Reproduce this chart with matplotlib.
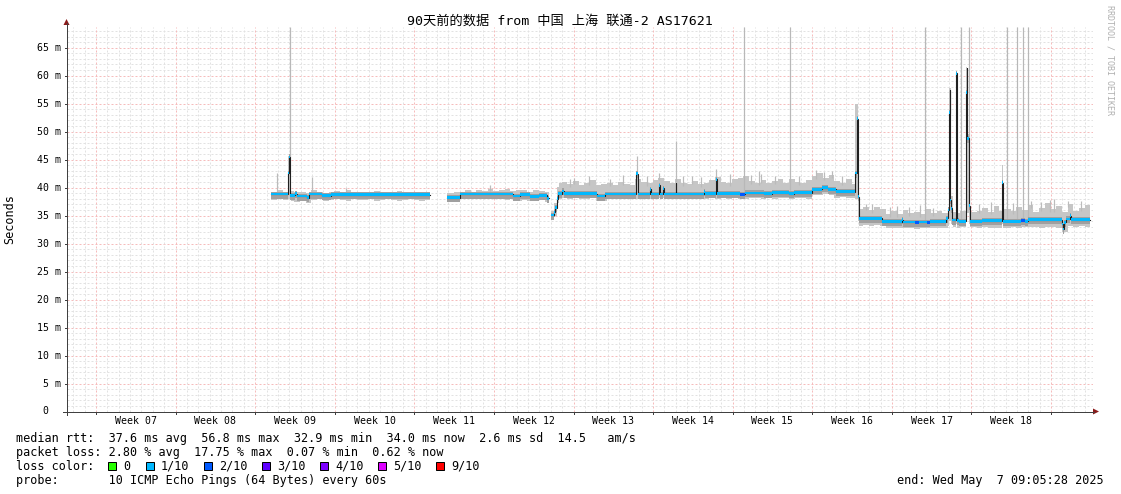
import numpy as np
import matplotlib
matplotlib.use("Agg")
import matplotlib.pyplot as plt
from matplotlib.patches import Rectangle, Polygon

# ---------------- data ----------------
TITLE = "90天前的数据 from 中国 上海 联通-2 AS17621"
WEEK_LABELS = ["Week 07", "Week 08", "Week 09", "Week 10", "Week 11", "Week 12",
               "Week 13", "Week 14", "Week 15", "Week 16", "Week 17", "Week 18"]
FIRST_WEEK_START = 2.55      # day offset (from window start) of the Monday of Week 07
X_MAX = 90.24                # days shown
Y_MAX = 68.7                 # ms shown
Y_TICKS = [0, 5, 10, 15, 20, 25, 30, 35, 40, 45, 50, 55, 60, 65]
Y_TICK_LABELS = [" 0  ", " 5 m", "10 m", "15 m", "20 m", "25 m", "30 m", "35 m",
                 "40 m", "45 m", "50 m", "55 m", "60 m", "65 m"]

# median rtt (ms), step starts in days; nan = no data from here on
med_x = [17.94, 19.45, 19.53, 19.61, 20.05, 20.2, 21.15, 21.3, 22.4, 23.2, 31.93,
         33.42, 34.56, 39.2, 39.84, 40.72, 41.5, 42.22, 42.35,
         42.6, 42.8, 42.95, 43.1, 43.22, 43.5, 43.7, 46.6, 47.3, 50.08,
         50.2, 51.25, 51.33, 52.05, 52.13, 52.4, 52.48, 53.52, 53.6, 56.0,
         56.08, 57.05, 57.13, 59.15, 59.6, 61.3, 62.0, 63.5, 63.9, 65.55,
         66.4, 66.9, 67.6, 69.35, 69.45, 69.55, 69.66, 71.65, 73.4, 73.5,
         74.6, 74.9, 75.6, 75.9, 77.35, 77.45, 77.55, 77.62, 77.70, 77.78,
         77.86, 78.15, 78.22, 78.30, 78.45, 79.05, 79.12, 79.20, 79.30, 79.42,
         80.5, 82.22, 82.32, 83.9, 84.3, 84.5, 87.50, 87.58, 87.66, 87.9,
         88.2, 88.28, 89.97]
med_y = [38.85, 42.6, 45.5, 38.6, 38.9, 38.5, 38.2, 38.85, 38.55, 38.75, np.nan,
         38.2, 38.85, 38.5, 38.75, 38.45, 38.6, 38.1, np.nan,
         35.1, 35.6, 36.4, 38.0, 38.9, 39.4, 38.95, 38.5, 38.85, 42.5,
         38.85, 39.7, 38.85, 40.4, 38.85, 39.9, 38.85, 40.8, 38.85, 39.3,
         38.9, 41.5, 39.0, 38.8, 39.05, 38.9, 39.1, 38.9, 39.1, 39.7,
         40.0, 39.7, 39.25, 42.6, 52.3, 38.4, 34.5, 33.9, 34.3, 33.85,
         33.8, 33.85, 33.8, 33.9, 34.5, 36.0, 53.4, 57.5, 37.8, 36.3,
         34.2, 56.7, 60.4, 34.1, 34.0, 57.0, 61.3, 48.8, 36.8, 34.0,
         34.1, 40.9, 34.0, 34.1, 34.0, 34.3, 33.5, 32.6, 33.8, 34.4,
         35.0, 34.3, np.nan]
# median steps drawn with the 2/10 loss colour (all others are 1/10)
loss2_x = [59.15, 74.6, 75.6, 83.9]

# smoke (spread of the 10 pings), step starts in days
smoke_x = [17.94, 18.5, 19.0, 19.45, 19.7, 20.0, 20.5, 21.0, 21.5, 22.0, 22.5, 23.0, 23.5,
           24.0, 24.5, 25.0, 25.5, 26.0, 26.5, 27.0, 27.5, 28.0, 28.5, 29.0, 29.5, 30.0,
           30.5, 31.0, 31.5, 31.93,
           33.42, 34.0, 34.5, 35.0, 35.5, 36.0, 36.5, 37.0, 37.5, 38.0, 38.5, 39.0, 39.5,
           40.0, 40.5, 41.0, 41.5, 42.0, 42.35,
           42.6, 42.85, 43.1, 43.3,
           43.5, 44.0, 44.5, 45.0, 45.5, 46.0, 46.5, 47.0, 47.5, 48.0, 48.5, 49.0, 49.5,
           50.0, 50.5, 51.0, 51.5, 52.0, 52.5, 53.0, 53.5, 54.0, 54.5, 55.0, 55.5, 56.0,
           56.5, 57.0, 57.5, 58.0, 58.5, 59.0, 59.5, 60.0, 60.5, 61.0, 61.5, 62.0, 62.5,
           63.0, 63.5, 64.0, 64.5, 65.0, 65.5, 66.0, 66.5, 67.0, 67.5, 68.0, 68.5, 69.0,
           69.35, 69.6, 69.7,
           70.0, 70.5, 71.0, 71.5, 72.0, 72.5, 73.0, 73.5, 74.0, 74.5, 75.0, 75.5, 76.0,
           76.5, 77.0, 77.45, 77.55, 77.75, 77.9, 78.15, 78.3, 78.5, 79.0, 79.05, 79.2,
           79.35, 79.45, 80.0, 80.5, 81.0, 81.5, 82.0, 82.22, 82.34, 83.0, 83.5, 84.0,
           84.5, 85.0, 85.5, 86.0, 86.5, 87.0, 87.5, 88.0, 88.5, 89.0, 89.5, 89.97]
smoke_lo = [37.8, 37.9, 37.8, 37.9, 37.6, 37.5, 37.8, 37.3, 37.8, 37.9, 37.7, 37.8, 37.9,
            37.8, 37.7, 37.9, 37.8, 37.8, 37.9, 37.7, 37.8, 37.9, 37.8, 37.7, 37.8, 37.9,
            37.8, 37.7, 37.8, np.nan,
            37.5, 37.6, 37.9, 38.0, 37.9, 38.0, 37.9, 37.9, 38.0, 37.9, 37.8, 37.9, 37.7,
            37.8, 37.7, 37.8, 37.8, 37.4, np.nan,
            34.4, 34.9, 37.3, 38.0,
            38.1, 38.0, 38.2, 38.0, 37.9, 38.1, 37.7, 37.7, 38.0, 37.9, 38.1, 38.0, 37.9,
            38.0, 38.1, 38.0, 37.9, 38.1, 38.0, 37.9, 38.0, 38.1, 38.0, 37.9, 38.1, 38.0,
            38.1, 38.0, 38.2, 38.0, 38.1, 37.9, 37.9, 38.1, 38.2, 38.0, 38.1, 38.0, 38.2,
            38.1, 38.0, 38.1, 38.2, 38.0, 38.6, 38.7, 38.8, 38.6, 38.2, 38.3, 38.1, 38.2,
            38.0, 34.0, 33.2,
            33.3, 33.2, 33.3, 33.1, 32.8, 32.7, 32.8, 32.7, 32.8, 32.6, 32.7, 32.8, 32.7,
            32.8, 32.7, 33.2, 34.0, 33.5, 32.9, 33.5, 32.8, 32.9, 33.0, 34.0, 35.5,
            33.5, 32.9, 32.8, 32.9, 32.8, 32.7, 32.8, 33.5, 32.8, 32.9, 32.8, 32.9,
            33.0, 32.9, 32.8, 32.9, 33.0, 32.8, 32.1, 33.1, 33.0, 33.1, 33.0, np.nan]
smoke_hi = [39.3, 39.5, 39.3, 45.6, 39.4, 39.2, 39.3, 39.1, 39.6, 39.2, 39.1, 39.2, 39.4,
            39.2, 39.5, 39.2, 39.3, 39.1, 39.3, 39.4, 39.2, 39.3, 39.2, 39.4, 39.2, 39.3,
            39.1, 39.3, 39.2, np.nan,
            39.0, 39.2, 39.3, 39.5, 39.3, 39.6, 39.4, 39.8, 39.4, 39.5, 39.8, 39.4, 39.6,
            39.5, 39.3, 39.6, 39.4, 39.2, np.nan,
            35.8, 37.2, 40.2, 40.8,
            41.0, 40.6, 41.2, 40.5, 40.9, 41.3, 40.4, 40.6, 40.8, 40.4, 41.0, 40.7, 40.5,
            41.6, 41.0, 40.8, 41.4, 41.8, 41.2, 40.9, 41.5, 40.8, 40.6, 41.2, 40.7, 40.9,
            41.3, 41.9, 41.0, 40.8, 41.5, 41.8, 42.0, 41.2, 40.9, 41.4, 40.8, 41.1, 41.5,
            40.9, 41.6, 41.0, 40.8, 41.3, 42.1, 42.6, 41.8, 42.3, 41.2, 40.9, 41.5, 40.7,
            55.0, 39.0, 36.2,
            36.5, 36.0, 36.6, 36.1, 35.3, 35.8, 35.2, 36.0, 35.4, 35.7, 35.2, 36.2, 35.5,
            35.9, 35.4, 36.5, 57.8, 38.5, 35.6, 60.5, 35.5, 35.8, 35.9, 61.5, 49.5,
            40.0, 35.6, 35.9, 36.3, 35.7, 36.8, 35.9, 44.0, 36.2, 35.8, 36.5, 36.0,
            36.9, 35.7, 36.4, 37.3, 36.2, 36.8, 35.6, 37.0, 35.9, 36.4, 36.9, np.nan]

# single high pings (thin smoke whiskers)
whisk_x = [18.5, 21.55, 24.5, 37.2, 44.2, 44.6, 45.9, 47.8, 48.9, 50.13, 51.0, 52.1,
           53.56, 54.2, 55.0, 55.8, 57.08, 58.3, 60.2, 60.9, 61.0, 62.3, 64.4, 65.9,
           66.6, 67.3, 68.2, 70.3, 70.8, 72.4, 73.0, 74.1, 75.0, 76.2, 80.2, 81.3,
           83.2, 84.8, 85.7, 86.5, 86.8, 88.0, 89.2]
whisk_top = [42.6, 41.9, 40.0, 40.4, 41.5, 41.8, 42.0, 41.6, 42.3, 45.6, 42.1, 42.7,
             48.3, 42.0, 42.0, 41.9, 43.4, 42.5, 42.2, 43.0, 42.5, 42.1, 42.0, 43.1,
             42.8, 43.0, 42.0, 37.0, 37.0, 36.5, 36.8, 36.6, 36.9, 36.4, 37.1, 37.5,
             37.3, 37.6, 37.4, 37.8, 38.0, 37.6, 37.7]
# pings beyond the top of the graph
tall_x = [19.6, 59.54, 63.59, 75.46, 78.63, 79.3, 82.67, 83.55, 84.08, 84.52]

RTT_STATS = ["37.6 ms avg", "56.8 ms max", "32.9 ms min", "34.0 ms now", "2.6 ms sd", "14.5   am/s"]
LOSS_STATS = ["2.80 % avg", "17.75 % max", "0.07 % min", "0.62 % now"]
LOSS_LABELS = ["0", "1/10", "2/10", "3/10", "4/10", "5/10", "9/10"]
LOSS_COLORS = ["#26ff00", "#00b8ff", "#0059ff", "#5e00ff", "#7e00ff", "#dd00ff", "#ff0000"]
PROBE = "10 ICMP Echo Pings (64 Bytes) every 60s"
END_TEXT = "end: Wed May  7 09:05:28 2025"

# ---------------- drawing ----------------
W, H = 1121, 494
MONO = ["DejaVu Sans Mono", "Noto Sans CJK SC"]
PX = 0.72  # one pixel in points


def steps(x, y):
    xs, ys = [], []
    for i in range(len(x) - 1):
        xs += [x[i], x[i + 1]]
        ys += [y[i], y[i]]
    return np.array(xs, float), np.array(ys, float)


def fx(x):
    return x / W


def fy(y):
    return 1 - y / H


fig = plt.figure(figsize=(W / 100, H / 100), dpi=100)
fig.patch.set_facecolor("white")
L, R, T, B = 67, 1093, 27, 411.5
ax = fig.add_axes([fx(L), fy(B), (R - L) / W, (B - T) / H])
ax.set_xlim(0, X_MAX)
ax.set_ylim(0, Y_MAX)
for s in ax.spines.values():
    s.set_visible(False)
ax.set_xticks([])
ax.set_yticks([])

# grid
minor_col, major_col = "#e2e2e2", "#f6bcbc"
dash = (0, (2, 2))
for v in range(1, int(Y_MAX) + 1):
    ax.axhline(v, color=major_col if v % 5 == 0 else minor_col, lw=PX, ls=dash, zorder=0)
d = FIRST_WEEK_START - 2
k = -2
while d < X_MAX:
    ax.axvline(d, color=major_col if k % 7 == 0 else minor_col, lw=PX, ls=dash, zorder=0)
    d += 1
    k += 1

# smoke
sx, slo = steps(smoke_x, smoke_lo)
_, shi = steps(smoke_x, smoke_hi)
ax.fill_between(sx, slo, shi, color="#c6c6c6", lw=0, zorder=2)

mx, my = steps(med_x, med_y)
ax.fill_between(mx, my - 0.8, my + 0.45, color="#a0a0a0", lw=0, zorder=3)


def step_val(xarr, yarr, x):
    i = np.searchsorted(np.array(xarr), x, side="right") - 1
    return yarr[i]


for x, t in zip(whisk_x, whisk_top):
    base = step_val(smoke_x, smoke_hi, x)
    ax.vlines(x, base - 0.5, t, color="#bbbbbb", lw=PX * 1.2, zorder=2)
for x in tall_x:
    base = step_val(med_x, med_y, x)
    ax.vlines(x, base, Y_MAX, color="#b8b8b8", lw=PX * 1.2, zorder=2)

# median
ax.plot(mx, my, color="#202020", lw=PX * 1.1, zorder=4, solid_joinstyle="miter")
med_loss = np.array([2 if x in loss2_x else 1 for x in med_x])
for lvl in (1, 2):
    yl = np.where(med_loss == lvl, np.array(med_y, float), np.nan)
    lx, ly = steps(med_x, yl)
    ax.fill_between(lx, ly - 0.24, ly + 0.24, color=LOSS_COLORS[lvl], lw=0, zorder=5)

# axes lines and arrows
axis_col, arrow_col = "#404040", "#8b1a1a"
fig.add_artist(plt.Line2D([fx(66.5), fx(66.5)], [fy(415), fy(23)], color=axis_col, lw=PX))
fig.add_artist(plt.Line2D([fx(63), fx(1094)], [fy(411.5), fy(411.5)], color=axis_col, lw=PX))
fig.add_artist(Polygon([(fx(63.5), fy(25)), (fx(69.5), fy(25)), (fx(66.5), fy(19))],
                       closed=True, transform=fig.transFigure, color=arrow_col, lw=0))
fig.add_artist(Polygon([(fx(1093), fy(408.5)), (fx(1093), fy(414.5)), (fx(1099), fy(411.5))],
                       closed=True, transform=fig.transFigure, color=arrow_col, lw=0))

# tick marks
for i in range(13):
    d = FIRST_WEEK_START + 7 * i
    ax.plot([d, d], [0, -0.5], color=axis_col, lw=PX, clip_on=False, zorder=6)
for v in Y_TICKS:
    ax.plot([-0.18, 0], [v, v], color=axis_col, lw=PX, clip_on=False, zorder=6)

# tick labels
for v, lab in zip(Y_TICKS, Y_TICK_LABELS):
    y_px = B - v * (B - T) / Y_MAX
    fig.text(fx(37), fy(y_px), lab, ha="left", va="center", fontsize=7.1,
             family=MONO, color="#000000")
for i, lab in enumerate(WEEK_LABELS):
    d = FIRST_WEEK_START + 3.5 + 7 * i
    x_px = L + d * (R - L) / X_MAX
    fig.text(fx(x_px), fy(421), lab, ha="center", va="center", fontsize=7.1, family=MONO)

# titles
fig.text(fx(560), fy(21), TITLE, ha="center", va="center", fontsize=9.5, family=MONO)
fig.text(fx(10), fy(219), "Seconds", ha="center", va="center", rotation=90,
         fontsize=8.5, family=MONO)
fig.text(fx(1110), fy(60), "RRDTOOL / TOBI OETIKER", ha="center", va="center",
         rotation=270, fontsize=6, family=MONO, color="#b0b0b0")

# legend
LF = 8.5
line1 = "median rtt:  " + "  ".join(RTT_STATS)
line2 = "packet loss: " + "  ".join(LOSS_STATS)
fig.text(fx(16), fy(438), line1, ha="left", va="center", fontsize=LF, family=MONO)
fig.text(fx(16), fy(452), line2, ha="left", va="center", fontsize=LF, family=MONO)
fig.text(fx(16), fy(466), "loss color:", ha="left", va="center", fontsize=LF, family=MONO)
box_x = [108, 146, 204, 262, 320, 378, 436]
for bx, lab, col in zip(box_x, LOSS_LABELS, LOSS_COLORS):
    fig.add_artist(Rectangle((fx(bx), fy(470)), 8 / W, 8 / H, transform=fig.transFigure,
                             facecolor=col, edgecolor="black", lw=PX))
    fig.text(fx(bx + 15), fy(466), lab, ha="left", va="center", fontsize=LF, family=MONO)
fig.text(fx(16), fy(480), "probe:       " + PROBE, ha="left", va="center", fontsize=LF, family=MONO)
fig.text(fx(1104), fy(480), END_TEXT, ha="right", va="center", fontsize=LF, family=MONO)

fig.savefig("out.png", dpi=100, facecolor="white")
